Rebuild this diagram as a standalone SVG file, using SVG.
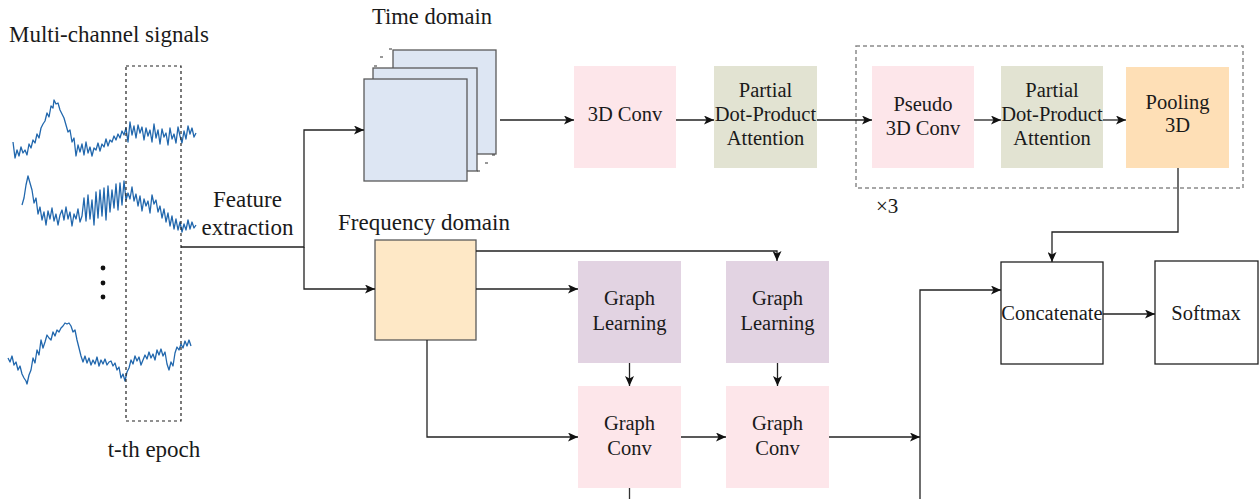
<svg xmlns="http://www.w3.org/2000/svg" width="1260" height="499" viewBox="0 0 1260 499">
<defs>
<marker id="arr" markerUnits="userSpaceOnUse" markerWidth="10" markerHeight="9" refX="10" refY="4.5" orient="auto">
<path d="M0,0 L10,4.5 L0,9 L2.5,4.5 z" fill="#111"/>
</marker>
<style>
.t{font-family:"Liberation Serif","Times New Roman",serif;fill:#1a1a1a}
.lbl{font-size:23px}
.bx{font-size:20.5px;text-anchor:middle}
.ln{fill:none;stroke:#333;stroke-width:1.3}
.ar{fill:none;stroke:#222;stroke-width:1.3;marker-end:url(#arr)}
.sig{fill:none;stroke:#2167ad;stroke-width:1.3;stroke-linejoin:round}
.pink{fill:#fde6ea}
.olive{fill:#e2e3d2}
.purple{fill:#e2d3e2}
.orange{fill:#fedfb6}
</style>
</defs>

<g id="signals">
<text class="t lbl" x="9" y="42">Multi-channel signals</text>
<polyline class="sig" points="13,142 15,158 17,150 19,156 21,147 23,153 25,150 27,155 29,144 31,148 33,140 35,143 37,134 39,138 41,128 43,124 45,121 47,113 49,117 51,106 53,108 54,100 56,104 58,103 60,110 62,114 64,118 66,125 68,132 70,130 72,142 74,138 76,156 78,145 80,152 82,144 84,155 86,142 88,153 90,147 92,156 94,148 96,150 98,143 100,151 102,144 104,147 106,139 108,146 110,140 112,142 114,136 116,140 118,134 120,138 122,131 124,135 126,128 128,142 130,122 132,135 134,126 136,138 138,125 140,133 142,127 144,140 146,128 148,136 150,130 152,142 154,124 156,138 158,130 160,144 162,129 164,137 166,133 168,145 170,128 172,139 174,134 176,143 178,127 180,136 182,143 184,131 186,139 188,126 190,134 192,128 194,137 196,133"/>
<polyline class="sig" points="22,205 24,198 26,185 28,176 30,183 32,190 34,203 36,198 38,214 40,207 42,220 44,212 46,225 48,211 50,219 52,208 54,221 56,214 58,225 60,215 62,210 64,220 66,207 68,219 70,212 72,226 74,214 76,219 78,209 80,222 82,216 84,198 86,221 88,195 90,219 92,200 94,225 96,192 98,218 100,190 102,216 104,188 106,220 108,186 110,212 112,190 114,208 116,184 118,210 120,183 122,205 124,181 126,200 128,193 130,199 132,187 134,201 136,194 138,206 140,196 142,211 144,199 146,206 148,201 150,213 152,195 154,204 156,200 158,212 160,206 162,218 164,209 166,222 168,213 170,226 172,216 174,229 176,219 178,230 180,222 182,232 184,224 186,230 188,220 190,229 192,222 194,228 196,225"/>
<polyline class="sig" points="8,358 10,362 12,356 14,365 16,362 18,370 20,366 22,374 24,378 26,381 27,384 29,375 31,370 33,358 35,363 37,350 39,355 41,340 43,348 45,342 47,335 49,338 51,340 53,332 55,336 57,330 59,332 61,328 63,326 65,323 67,324 69,323 71,326 73,332 75,330 77,340 79,348 81,356 83,362 85,356 87,363 89,358 91,365 93,360 95,364 97,357 99,366 101,360 103,364 105,359 107,365 109,362 111,361 113,366 115,363 117,370 119,367 121,378 123,374 125,381 127,372 129,368 131,360 133,364 135,356 137,361 139,357 141,365 143,360 145,355 147,359 149,352 151,358 153,354 155,360 157,350 159,355 161,349 163,356 165,352 167,364 169,370 171,362 173,366 175,353 177,347 179,350 181,344 183,348 185,341 187,346 189,340 191,346"/>
<circle cx="103" cy="268" r="2.4" fill="#111"/>
<circle cx="103" cy="283" r="2.4" fill="#111"/>
<circle cx="103" cy="297" r="2.4" fill="#111"/>
<rect x="126" y="66" width="55" height="355" fill="none" stroke="#222" stroke-width="1.2" stroke-dasharray="3 3"/>
<text class="t lbl" x="154" y="457" text-anchor="middle">t-th epoch</text>
<text class="t lbl" x="247.5" y="207" text-anchor="middle">Feature</text>
<text class="t lbl" x="247.5" y="235" text-anchor="middle">extraction</text>
</g>

<g id="time-domain">
<text class="t" x="432" y="24" font-size="22.5" text-anchor="middle">Time domain</text>
<rect x="393" y="50" width="103" height="104" fill="#dde6f3" stroke="#5a5a5a" stroke-width="1.3"/>
<rect x="373" y="68" width="104" height="103" fill="#dde6f3" stroke="#5a5a5a" stroke-width="1.3"/>
<rect x="364" y="79" width="103" height="102" fill="#dde6f3" stroke="#5a5a5a" stroke-width="1.3"/>
<g stroke="#333" stroke-width="1">
<line x1="389" y1="49" x2="392" y2="49"/>
<line x1="380" y1="57" x2="383" y2="57"/>
<line x1="374" y1="66" x2="377" y2="66"/>
<line x1="492" y1="155" x2="495" y2="155"/>
<line x1="485" y1="163" x2="488" y2="163"/>
<line x1="477" y1="171" x2="480" y2="171"/>
</g>
</g>

<g id="conv3d">
<rect class="pink" x="574" y="66" width="102" height="102"/>
<text class="t bx" x="625" y="121">3D Conv</text>
</g>
<g id="pdpa1">
<rect class="olive" x="714" y="66" width="103" height="102"/>
<text class="t bx" x="765.5" y="96.5">Partial</text>
<text class="t bx" x="765.5" y="120.5">Dot-Product</text>
<text class="t bx" x="765.5" y="144.5">Attention</text>
</g>
<g id="repeat-block">
<rect x="856" y="46" width="387" height="142" fill="none" stroke="#8a8a8a" stroke-width="1.5" stroke-dasharray="4 3"/>
<text class="t" x="876" y="213" font-size="21">×3</text>
</g>
<g id="pseudo3d">
<rect class="pink" x="872" y="66" width="102" height="102"/>
<text class="t bx" x="923" y="110.5">Pseudo</text>
<text class="t bx" x="923" y="135">3D Conv</text>
</g>
<g id="pdpa2">
<rect class="olive" x="1001" y="66" width="102" height="102"/>
<text class="t bx" x="1052" y="96.5">Partial</text>
<text class="t bx" x="1052" y="120.5">Dot-Product</text>
<text class="t bx" x="1052" y="144.5">Attention</text>
</g>
<g id="pooling3d">
<rect class="orange" x="1126" y="67" width="103" height="101"/>
<text class="t bx" x="1177.5" y="108.5">Pooling</text>
<text class="t bx" x="1177.5" y="132">3D</text>
</g>

<g id="frequency-domain">
<text class="t" x="424" y="230" font-size="23" text-anchor="middle">Frequency domain</text>
<rect x="375" y="240" width="101" height="100" fill="#fee8c6" stroke="#5a5a5a" stroke-width="1.3"/>
</g>
<g id="graph-learning-1">
<rect class="purple" x="578" y="261" width="103" height="102"/>
<text class="t bx" x="629.5" y="305">Graph</text>
<text class="t bx" x="629.5" y="329.5">Learning</text>
</g>
<g id="graph-learning-2">
<rect class="purple" x="726" y="261" width="103" height="102"/>
<text class="t bx" x="777.5" y="305">Graph</text>
<text class="t bx" x="777.5" y="329.5">Learning</text>
</g>
<g id="graph-conv-1">
<rect class="pink" x="578" y="386" width="103" height="102"/>
<text class="t bx" x="629.5" y="430">Graph</text>
<text class="t bx" x="629.5" y="454.5">Conv</text>
</g>
<g id="graph-conv-2">
<rect class="pink" x="726" y="386" width="103" height="102"/>
<text class="t bx" x="777.5" y="430">Graph</text>
<text class="t bx" x="777.5" y="454.5">Conv</text>
</g>
<g id="concatenate">
<rect x="1001" y="262" width="102" height="102" fill="#fff" stroke="#222" stroke-width="1.3"/>
<text class="t bx" x="1052" y="320">Concatenate</text>
</g>
<g id="softmax">
<rect x="1155" y="261" width="103" height="103" fill="#fff" stroke="#222" stroke-width="1.3"/>
<text class="t bx" x="1206" y="320">Softmax</text>
</g>

<g id="connectors">
<path class="ar" d="M181,247 H304 V130 H364"/>
<path class="ar" d="M304,247 V289 H375"/>
<path class="ar" d="M500,120 H574"/>
<path class="ar" d="M676,120 H714"/>
<path class="ar" d="M817,120 H872"/>
<path class="ar" d="M974,120 H1001"/>
<path class="ar" d="M1103,120 H1126"/>
<path class="ar" d="M1178,168 V232 H1052 V262"/>
<path class="ar" d="M1103,314 H1155"/>
<path class="ar" d="M476,251 H777 V261"/>
<path class="ar" d="M476,289 H578"/>
<path class="ar" d="M427,340 V437 H578"/>
<path class="ar" d="M629.5,363 V386"/>
<path class="ar" d="M777.5,363 V386"/>
<path class="ar" d="M681,437 H726"/>
<path class="ar" d="M829,437 H920"/>
<path class="ar" d="M920,499 V290 H1001"/>
<path class="ln" d="M629.5,488 V499"/>
</g>
</svg>
